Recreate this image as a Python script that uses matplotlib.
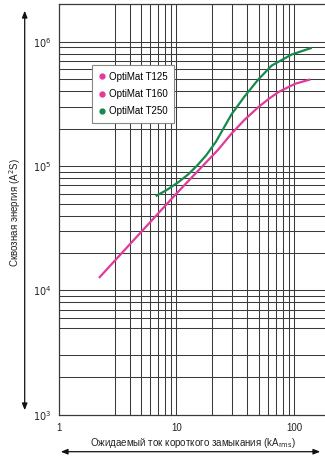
import matplotlib
matplotlib.use("Agg")
import matplotlib.pyplot as plt
from matplotlib.lines import Line2D
import numpy as np

plt.rcParams['font.family'] = ['Liberation Sans Narrow', 'Liberation Sans', 'DejaVu Sans']

# Data
t125_160_x = [2.2, 10, 22.6, 29.4, 37.9, 49.8, 61.0, 73.8, 102, 138]
t125_160_y = [1.26e4, 6.0e4, 1.35e5, 1.82e5, 2.35e5, 2.98e5, 3.47e5, 3.94e5, 4.59e5, 4.98e5]
t250_x = [6.68, 8.3, 10.26, 12.57, 15.03, 17.94, 21.8, 29.4, 38.0, 49.8, 64.7, 95.9, 142]
t250_y = [5.73e4, 6.43e4, 7.35e4, 8.55e4, 1.01e5, 1.22e5, 1.58e5, 2.6e5, 3.63e5,
          4.98e5, 6.44e5, 7.91e5, 8.95e5]

series_names = ["OptiMat T125", "OptiMat T160", "OptiMat T250"]
x_ticks = [1, 10, 100]
x_tick_labels = ["1", "10", "100"]
y_ticks = [1e3, 1e4, 1e5, 1e6]
y_tick_labels = [r"$10^3$", r"$10^4$", r"$10^5$", r"$10^6$"]
y_label = "Сквозная энергия (A$^2$S)"
x_label = "Ожидаемый ток короткого замыкания (kA$_{\\rm rms}$)"

magenta = "#e2399b"
green = "#168a4c"
grid_c = "#3a3a3a"

W, H = 325, 458
fig = plt.figure(figsize=(W / 100, H / 100), dpi=100)
left = 58.7 / W
bottom = (H - 414.7) / H
top_px = 4.0
ax = fig.add_axes([left, bottom, 1 - left + 0.01, (414.7 - top_px) / H])
ax.set_xscale('log')
ax.set_yscale('log')
ax.set_xlim(1, 10 ** ((325 - 58.7) / 116.7 + 0.01))
ax.set_ylim(1e3, 10 ** (3 + (414.7 - top_px) / 124.3))

# grid lines (as in the reference: no line at x=2, no line at y=4e3)
vx = [3, 4, 5, 6, 7, 8, 9, 10, 20, 30, 40, 50, 60, 70, 80, 90, 100]
for v in vx:
    ax.axvline(v, color=grid_c, lw=0.75, zorder=1)
hy = []
for d in [1e3, 1e4, 1e5]:
    for m in range(1, 10):
        if d == 1e3 and m in (1, 4):
            continue
        hy.append(m * d)
hy.append(1e6)
for v in hy:
    ax.axhline(v, color=grid_c, lw=0.75, zorder=1)

ax.spines['right'].set_visible(False)
for s in ['left', 'bottom', 'top']:
    ax.spines[s].set_color(grid_c)
    ax.spines[s].set_linewidth(0.9)

ax.plot(t125_160_x, t125_160_y, color=magenta, lw=1.6, zorder=3, solid_capstyle='butt')
ax.plot(t250_x, t250_y, color=green, lw=1.6, zorder=3, solid_capstyle='butt')

ax.set_xticks(x_ticks)
ax.set_xticklabels(x_tick_labels)
ax.set_yticks(y_ticks)
ax.set_yticklabels(y_tick_labels)
ax.xaxis.set_minor_locator(matplotlib.ticker.NullLocator())
ax.yaxis.set_minor_locator(matplotlib.ticker.NullLocator())
ax.tick_params(axis='both', length=0, labelsize=7, colors='#222222')
ax.tick_params(axis='x', pad=6)
ax.tick_params(axis='y', pad=5)

handles = [
    Line2D([], [], marker='o', ls='none', color=magenta, markersize=3.5),
    Line2D([], [], marker='o', ls='none', color=magenta, markersize=3.5),
    Line2D([], [], marker='o', ls='none', color=green, markersize=3.5),
]
leg = ax.legend(handles, series_names, loc='upper left',
                bbox_to_anchor=(92.3 / W, 1 - 65 / H), bbox_transform=fig.transFigure,
                fontsize=7, frameon=True, fancybox=False, framealpha=1,
                edgecolor='#888888', handlelength=0.6, handletextpad=0.4,
                labelspacing=0.75, borderpad=0.7, borderaxespad=0)
leg.get_frame().set_linewidth(0.8)
leg.set_zorder(5)

# axis labels
fig.text(15 / W, 1 - 212 / H, y_label, rotation=90, ha='center', va='center',
         fontsize=7, color='#222222')
fig.text(193 / W, 1 - 443 / H, x_label, ha='center', va='center',
         fontsize=7, color='#222222')

# double arrows
fig.add_artist(matplotlib.patches.FancyArrowPatch(
    (24.7 / W, 1 - 8 / H), (24.7 / W, 1 - 413 / H), transform=fig.transFigure,
    arrowstyle='<|-|>,head_length=4,head_width=1.6', color='#111111', lw=0.9,
    mutation_scale=1))
fig.add_artist(matplotlib.patches.FancyArrowPatch(
    (58 / W, 1 - 451.7 / H), (323 / W, 1 - 451.7 / H), transform=fig.transFigure,
    arrowstyle='<|-|>,head_length=4,head_width=1.6', color='#111111', lw=0.9,
    mutation_scale=1))

fig.savefig("out.png", dpi=100)
